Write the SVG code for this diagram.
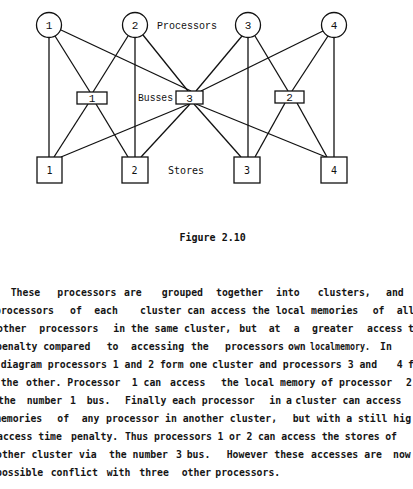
<svg xmlns="http://www.w3.org/2000/svg" width="413" height="489" viewBox="0 0 413 489">
<style>
.ln{stroke:#111;stroke-width:1.3;fill:none}
.nd{stroke:#111;stroke-width:1.3;fill:#fff}
.num{font-family:"Liberation Mono","Courier New",monospace;font-size:11px;fill:#111;text-anchor:middle}
.lbl{font-family:"Liberation Mono","Courier New",monospace;font-size:10.5px;fill:#111}
.sl{font-family:"DejaVu Sans Mono",monospace;font-size:10px;fill:#111}
.cap{font-family:"DejaVu Sans Mono",monospace;font-size:10px;font-weight:bold;fill:#111}
.par{font-family:"DejaVu Sans Mono",monospace;font-size:9.8px;font-weight:bold;fill:#151515}
</style>
<rect width="413" height="489" fill="#fff"/>
<g id="connectors" class="ln">
<line x1="49" y1="37.5" x2="49" y2="157"/>
<line x1="55" y1="36" x2="90" y2="92"/>
<line x1="61" y1="30" x2="191" y2="91"/>
<line x1="128" y1="36" x2="93" y2="92"/>
<line x1="135" y1="37.5" x2="135" y2="157"/>
<line x1="143" y1="35" x2="188" y2="91"/>
<line x1="242" y1="36" x2="196" y2="91"/>
<line x1="248" y1="37.5" x2="248" y2="157"/>
<line x1="255" y1="36" x2="288" y2="91"/>
<line x1="323" y1="31" x2="201" y2="91"/>
<line x1="328" y1="36" x2="292" y2="91"/>
<line x1="334" y1="37.5" x2="334" y2="157"/>
<line x1="88" y1="104" x2="54" y2="157"/>
<line x1="96" y1="104" x2="128" y2="157"/>
<line x1="189" y1="104" x2="61" y2="157"/>
<line x1="190" y1="104" x2="141" y2="157"/>
<line x1="194" y1="104" x2="241" y2="157"/>
<line x1="196" y1="104" x2="326" y2="157"/>
<line x1="285" y1="103" x2="255" y2="157"/>
<line x1="297" y1="103" x2="327" y2="157"/>
</g>
<g id="p1"><circle class="nd" cx="49" cy="25" r="12.5"/><text class="num" x="49" y="29">1</text></g>
<g id="p2"><circle class="nd" cx="135" cy="25" r="12.5"/><text class="num" x="135" y="29">2</text></g>
<g id="p3"><circle class="nd" cx="248" cy="25" r="12.5"/><text class="num" x="248" y="29">3</text></g>
<g id="p4"><circle class="nd" cx="334" cy="25" r="12.5"/><text class="num" x="334" y="29">4</text></g>
<g id="b1"><rect class="nd" x="77" y="92" width="30" height="12"/><text class="num" x="92" y="101.5">1</text></g>
<g id="b3"><rect class="nd" x="176" y="91" width="27" height="13"/><text class="num" x="189.5" y="101.5">3</text></g>
<g id="b2"><rect class="nd" x="275" y="91" width="29" height="12"/><text class="num" x="289.5" y="101">2</text></g>
<g id="s1"><rect class="nd" x="37" y="157" width="25" height="26"/><text class="sl" x="49.5" y="173.5" text-anchor="middle">1</text></g>
<g id="s2"><rect class="nd" x="122" y="157" width="26" height="26"/><text class="sl" x="134.5" y="173.5" text-anchor="middle">2</text></g>
<g id="s3"><rect class="nd" x="234" y="157" width="26" height="26"/><text class="sl" x="247" y="173.5" text-anchor="middle">3</text></g>
<g id="s4"><rect class="nd" x="321" y="157" width="26" height="26"/><text class="sl" x="334" y="173.5" text-anchor="middle">4</text></g>
<text class="lbl" x="157" y="28.5" textLength="60" lengthAdjust="spacingAndGlyphs">Processors</text>
<text class="lbl" x="138" y="101" textLength="35" lengthAdjust="spacingAndGlyphs">Busses</text>
<text class="sl" x="168" y="173.5">Stores</text>
<text class="cap" x="179.5" y="240.5">Figure 2.10</text>
<g id="paragraph" class="par">
<text y="296"><tspan x="10.7">These</tspan><tspan x="57.3">processors</tspan><tspan x="124">are</tspan><tspan x="161.7">grouped</tspan><tspan x="216">together</tspan><tspan x="276">into</tspan><tspan x="317.7">clusters,</tspan><tspan x="386">and</tspan></text>
<text y="314"><tspan x="-5">processors</tspan><tspan x="70">of</tspan><tspan x="94.3">each</tspan><tspan x="140">cluster can access the local memories</tspan><tspan x="372.7">of</tspan><tspan x="396.7">all</tspan></text>
<text y="332"><tspan x="-3">other</tspan><tspan x="39.3">processors</tspan><tspan x="113.3">in the same cluster,</tspan><tspan x="239.3">but</tspan><tspan x="268.7">at</tspan><tspan x="293.7">a</tspan><tspan x="312">greater</tspan><tspan x="367">access</tspan><tspan x="408">t</tspan></text>
<text y="350"><tspan x="-4">penalty compared</tspan><tspan x="106.7">to</tspan><tspan x="131">accessing</tspan><tspan x="191">the</tspan><tspan x="225">processors</tspan><tspan x="288">own</tspan></text>
<text y="350" x="310" textLength="60" lengthAdjust="spacingAndGlyphs">localmemory.</text>
<text y="350" x="380">In</text>
<text y="368"><tspan x="0.7">diagram processors 1 and 2 form one</tspan><tspan x="212">cluster and processors 3 and</tspan><tspan x="396.7">4</tspan><tspan x="408">f</tspan></text>
<text y="386"><tspan x="0.7">the</tspan><tspan x="26">other. Processor</tspan><tspan x="131.7">1 can</tspan><tspan x="170">access</tspan><tspan x="221">the local memory of processor</tspan><tspan x="406">2</tspan></text>
<text y="404"><tspan x="-2">the</tspan><tspan x="26.7">number</tspan><tspan x="70">1</tspan><tspan x="86.7">bus.</tspan><tspan x="125">Finally each processor</tspan><tspan x="269.3">in</tspan><tspan x="286">a</tspan><tspan x="295.3">cluster can access</tspan></text>
<text y="422"><tspan x="-5">memories</tspan><tspan x="57.3">of</tspan><tspan x="81.7">any</tspan><tspan x="106">processor in another cluster,</tspan><tspan x="292.7">but</tspan><tspan x="316.7">with a still hig</tspan></text>
<text y="440"><tspan x="-3">access time</tspan><tspan x="71">penalty.</tspan></text>
<text y="440" x="125" textLength="272" lengthAdjust="spacing">Thus processors 1 or 2 can access the stores of</text>
<text y="458"><tspan x="-4">other cluster</tspan><tspan x="79">via</tspan><tspan x="109">the number</tspan><tspan x="176">3</tspan><tspan x="186.7">bus.</tspan><tspan x="226.7">However</tspan><tspan x="274.3">these</tspan><tspan x="311">accesses</tspan><tspan x="364.3">are</tspan><tspan x="393">now</tspan></text>
<text y="476"><tspan x="-4">possible</tspan><tspan x="50.7">conflict</tspan><tspan x="106.7">with</tspan><tspan x="139.3">three</tspan><tspan x="181.7">other</tspan><tspan x="215.3">processors.</tspan></text>
</g>
</svg>
